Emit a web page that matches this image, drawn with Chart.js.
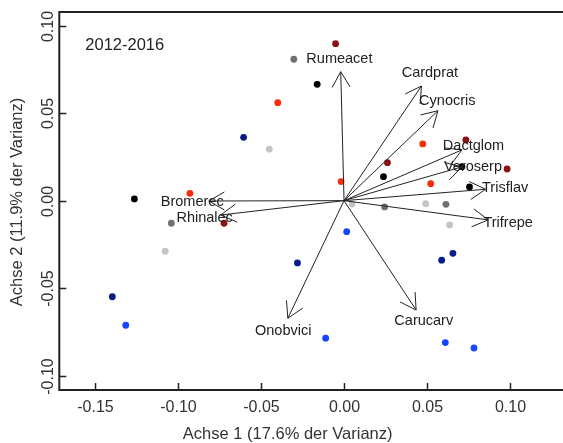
<!DOCTYPE html>
<html>
<head>
<meta charset="utf-8">
<script src="https://cdn.jsdelivr.net/npm/chart.js@4.4.0/dist/chart.umd.min.js"></script>
<style>
  html, body { margin: 0; padding: 0; background: #fff; }
  canvas { display: block; }
</style>
</head>
<body>
<canvas id="biplot" width="563" height="443"></canvas>
<script>
// Site scores, one pair of arrays per colour group
const blackX = [-0.1265, -0.0162, 0.0238, 0.0711, 0.0757];
const blackY = [0.0010, 0.0665, 0.0137, 0.0194, 0.0078];
const redX = [-0.0930, -0.0400, -0.0018, 0.0475, 0.0523];
const redY = [0.0042, 0.0560, 0.0109, 0.0324, 0.0097];
const darkRedX = [-0.0051, 0.0262, 0.0735, 0.0984, -0.0724];
const darkRedY = [0.0897, 0.0217, 0.0347, 0.0181, -0.0129];
const midGrayX = [-0.0303, 0.0245, 0.0615, -0.1042];
const midGrayY = [0.0808, -0.0036, -0.0021, -0.0129];
const lightGrayX = [-0.0451, 0.0493, 0.0637, 0.0048, -0.1079];
const lightGrayY = [0.0294, -0.0017, -0.0139, -0.0019, -0.0289];
const navyX = [-0.0606, -0.0281, 0.0589, 0.0657, -0.1398];
const navyY = [0.0362, -0.0356, -0.0340, -0.0301, -0.0549];
const blueX = [0.0016, -0.0111, 0.0611, 0.0784, -0.1317];
const blueY = [-0.0177, -0.0786, -0.0811, -0.0842, -0.0712];

// Species arrows (tips) and where their names sit
const species = ['Rumeacet', 'Cardprat', 'Cynocris', 'Dactglom', 'Veroserp', 'Trisflav',
                 'Trifrepe', 'Carucarv', 'Onobvici', 'Bromerec', 'Rhinalec'];
const arrowX = [-0.0020, 0.0467, 0.0567, 0.0711, 0.0711, 0.0854, 0.0870, 0.0435, -0.0339, -0.0816, -0.0744];
const arrowY = [0.0737, 0.0655, 0.0514, 0.0290, 0.0193, 0.0065, -0.0110, -0.0625, -0.0672, -0.0002, -0.0082];
const labelX = [-0.0028, 0.0518, 0.0623, 0.0781, 0.0778, 0.0972, 0.0990, 0.0481, -0.0367, -0.0916, -0.0841];
const labelY = [0.0808, 0.0731, 0.0571, 0.0314, 0.0190, 0.0074, -0.0129, -0.0686, -0.0745, -0.0006, -0.0101];

// Axis ticks and texts
const xTicks = [-0.15, -0.10, -0.05, 0.00, 0.05, 0.10];
const yTicks = [-0.10, -0.05, 0.00, 0.05, 0.10];
const xTitle = 'Achse 1 (17.6% der Varianz)';
const yTitle = 'Achse 2 (11.9% der Varianz)';
const periodText = '2012-2016';

const FONT = '"Liberation Sans", Arial, Helvetica, sans-serif';

function pairs(xs, ys) {
    return xs.map(function(x, i) { return { x: x, y: ys[i] }; });
}

function pointSet(xs, ys, colour) {
    return {
        data: pairs(xs, ys),
        backgroundColor: colour,
        borderColor: colour,
        borderWidth: 0,
        pointRadius: 3.4,
        order: 2
    };
}

const datasets = [
    pointSet(blackX, blackY, '#000000'),
    pointSet(redX, redY, '#fa2a0a'),
    pointSet(darkRedX, darkRedY, '#8b1212'),
    pointSet(midGrayX, midGrayY, '#707070'),
    pointSet(lightGrayX, lightGrayY, '#c4c4c4'),
    pointSet(navyX, navyY, '#0a1a8a'),
    pointSet(blueX, blueY, '#1a45ff')
];

// one line dataset per arrow shaft, drawn above the points
species.forEach(function(name, i) {
    datasets.push({
        data: [{ x: 0, y: 0 }, { x: arrowX[i], y: arrowY[i] }],
        showLine: true,
        borderColor: '#222222',
        borderWidth: 1,
        pointRadius: 0,
        order: 1
    });
});

// Draws the frame, inward ticks, tick labels, titles, arrow heads and names
const biplotDecor = {
    id: 'biplotDecor',
    afterDatasetsDraw: function(chart) {
        const ctx = chart.ctx;
        const xs = chart.scales.x;
        const ys = chart.scales.y;
        const area = chart.chartArea;

        ctx.save();
        ctx.strokeStyle = '#222222';

        // arrow heads
        ctx.lineWidth = 1;
        const ox = xs.getPixelForValue(0), oy = ys.getPixelForValue(0);
        for (let i = 0; i < species.length; i++) {
            const tx = xs.getPixelForValue(arrowX[i]);
            const ty = ys.getPixelForValue(arrowY[i]);
            const ang = Math.atan2(ty - oy, tx - ox);
            const len = 18, spread = Math.PI / 6;
            ctx.beginPath();
            ctx.moveTo(tx - len * Math.cos(ang - spread), ty - len * Math.sin(ang - spread));
            ctx.lineTo(tx, ty);
            ctx.lineTo(tx - len * Math.cos(ang + spread), ty - len * Math.sin(ang + spread));
            ctx.stroke();
        }

        // species names
        ctx.fillStyle = '#222222';
        ctx.font = '14.5px ' + FONT;
        ctx.textAlign = 'center';
        ctx.textBaseline = 'middle';
        for (let i = 0; i < species.length; i++) {
            ctx.fillText(species[i], xs.getPixelForValue(labelX[i]), ys.getPixelForValue(labelY[i]));
        }

        // period text, top left
        ctx.font = '16.5px ' + FONT;
        ctx.textAlign = 'left';
        ctx.textBaseline = 'alphabetic';
        ctx.fillText(periodText, area.left + 26, area.top + 37.5);

        // frame (right side lies outside the picture)
        ctx.lineWidth = 2;
        ctx.beginPath();
        ctx.moveTo(chart.width + 2, area.top);
        ctx.lineTo(area.left, area.top);
        ctx.lineTo(area.left, area.bottom);
        ctx.lineTo(chart.width + 2, area.bottom);
        ctx.stroke();

        // inward ticks and labels
        ctx.lineWidth = 1.5;
        ctx.font = '16px ' + FONT;
        ctx.fillStyle = '#333333';
        ctx.textAlign = 'center';
        xTicks.forEach(function(v) {
            const px = Math.round(xs.getPixelForValue(v)) + 0.5;
            ctx.beginPath();
            ctx.moveTo(px, area.bottom);
            ctx.lineTo(px, area.bottom - 7);
            ctx.stroke();
            ctx.fillText(v.toFixed(2), px, area.bottom + 22);
        });
        yTicks.forEach(function(v) {
            const py = Math.round(ys.getPixelForValue(v)) + 0.5;
            ctx.beginPath();
            ctx.moveTo(area.left, py);
            ctx.lineTo(area.left + 7, py);
            ctx.stroke();
            ctx.save();
            ctx.translate(area.left - 6, py);
            ctx.rotate(-Math.PI / 2);
            ctx.fillText(v.toFixed(2), 0, 0);
            ctx.restore();
        });

        // axis titles
        ctx.font = '16.5px ' + FONT;
        ctx.fillText(xTitle, xs.getPixelForValue(-0.034), area.bottom + 49);
        ctx.save();
        ctx.translate(21.5, (area.top + area.bottom) / 2 + 1);
        ctx.rotate(-Math.PI / 2);
        ctx.fillText(yTitle, 0, 0);
        ctx.restore();

        ctx.restore();
    }
};

const chart = new Chart(document.getElementById('biplot'), {
    type: 'scatter',
    data: { datasets: datasets },
    options: {
        responsive: false,
        animation: false,
        devicePixelRatio: 1,
        layout: { padding: { top: 12, right: 0, bottom: 0, left: 0 } },
        plugins: {
            legend: { display: false },
            tooltip: { enabled: false }
        },
        scales: {
            x: {
                type: 'linear',
                min: -0.1718,
                max: 0.1297,
                ticks: { display: false },
                grid: { display: false },
                border: { display: false },
                afterFit: function(scale) { scale.height = 53; }
            },
            y: {
                type: 'linear',
                min: -0.1082,
                max: 0.1078,
                ticks: { display: false },
                grid: { display: false },
                border: { display: false },
                afterFit: function(scale) { scale.width = 59.3; }
            }
        }
    },
    plugins: [biplotDecor]
});
</script>
</body>
</html>
